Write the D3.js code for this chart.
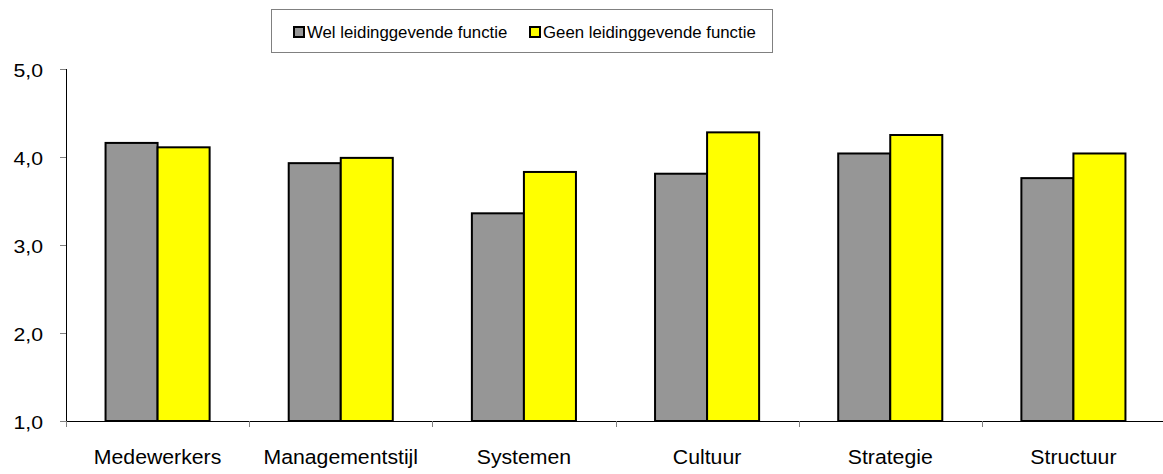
<!DOCTYPE html>
<html>
<head>
<meta charset="utf-8">
<script src="https://cdn.jsdelivr.net/npm/d3@7"></script>
<style>
  html, body { margin: 0; padding: 0; background: #fff; }
  text { font-family: "Liberation Sans", Arial, sans-serif; fill: #000; }
</style>
</head>
<body>
<svg id="chart" width="1163" height="474"></svg>
<script>
const categories = ["Medewerkers", "Managementstijl", "Systemen", "Cultuur", "Strategie", "Structuur"];
const seriesNames = ["Wel leidinggevende functie", "Geen leidinggevende functie"];
const welValues = [4.16, 3.93, 3.36, 3.81, 4.04, 3.76];
const geenValues = [4.11, 3.99, 3.83, 4.28, 4.25, 4.04];
const seriesColors = ["#969696", "#ffff00"];
const yTicks = [1, 2, 3, 4, 5];
const yTickLabels = ["1,0", "2,0", "3,0", "4,0", "5,0"];

(function () {
const svg = d3.select("#chart");
const mLeft = 66, mRight = 1165, mTop = 69, mBottom = 421;

const y = d3.scaleLinear().domain([1, 5]).range([mBottom, mTop]);
const x0 = d3.scaleBand().domain(categories).range([mLeft, mRight]).padding(0);
const x1 = d3.scaleBand().domain(seriesNames).range([0, x0.bandwidth()]).paddingInner(0).paddingOuter(0.76);

const series = [welValues, geenValues];

// bars
const g = svg.append("g");
categories.forEach((c, i) => {
  seriesNames.forEach((s, j) => {
    const v = series[j][i];
    g.append("rect")
      .attr("x", x0(c) + x1(s))
      .attr("y", y(v))
      .attr("width", x1.bandwidth())
      .attr("height", y(1) - y(v))
      .attr("fill", seriesColors[j])
      .attr("stroke", "#000")
      .attr("stroke-width", 2);
  });
});

// y axis
const yAxis = d3.axisLeft(y).tickValues(yTicks).tickSize(6).tickFormat((d, i) => yTickLabels[i]);
const ya = svg.append("g").attr("transform", `translate(${mLeft},0)`).call(yAxis);
ya.select(".domain").attr("stroke", "#000").attr("d", `M0.5,${mTop}V${mBottom}`);
ya.selectAll(".tick line").attr("stroke", "#808080");
ya.selectAll(".tick text")
  .attr("x", null).attr("dy", null)
  .attr("transform", "translate(-23,7) scale(1.18,1)")
  .attr("text-anchor", "end")
  .style("font-size", "18px").style("font-family", "'Liberation Sans', Arial, sans-serif").attr("fill", "#000");

// x axis
const xa = svg.append("g").attr("transform", `translate(0,${mBottom})`);
xa.append("line").attr("x1", mLeft).attr("x2", 1163).attr("y1", 0.5).attr("y2", 0.5).attr("stroke", "#000");
const bounds = categories.map(c => x0(c));
xa.selectAll("line.sep").data(bounds).enter().append("line")
  .attr("class", "sep")
  .attr("x1", d => Math.round(d) + 0.5).attr("x2", d => Math.round(d) + 0.5)
  .attr("y1", 0).attr("y2", 6).attr("stroke", "#808080");
xa.selectAll("text.cat").data(categories).enter().append("text")
  .attr("class", "cat")
  .attr("transform", d => `translate(${x0(d) + x0.bandwidth() / 2},43) scale(1.09,1)`)
  .attr("text-anchor", "middle")
  .style("font-size", "19.5px")
  .text(d => d);

// legend
const lg = svg.append("g");
lg.append("rect").attr("x", 271.5).attr("y", 9.5).attr("width", 501).attr("height", 43)
  .attr("fill", "#fff").attr("stroke", "#808080").attr("stroke-width", 1);
const legendX = [294, 530];
seriesNames.forEach((s, j) => {
  lg.append("rect").attr("x", legendX[j]).attr("y", 27).attr("width", 10).attr("height", 10)
    .attr("fill", seriesColors[j]).attr("stroke", "#000").attr("stroke-width", 2);
  lg.append("text").attr("x", legendX[j] + 13).attr("y", 38)
    .style("font-size", "16.8px").text(s);
});
})();
</script>
</body>
</html>
